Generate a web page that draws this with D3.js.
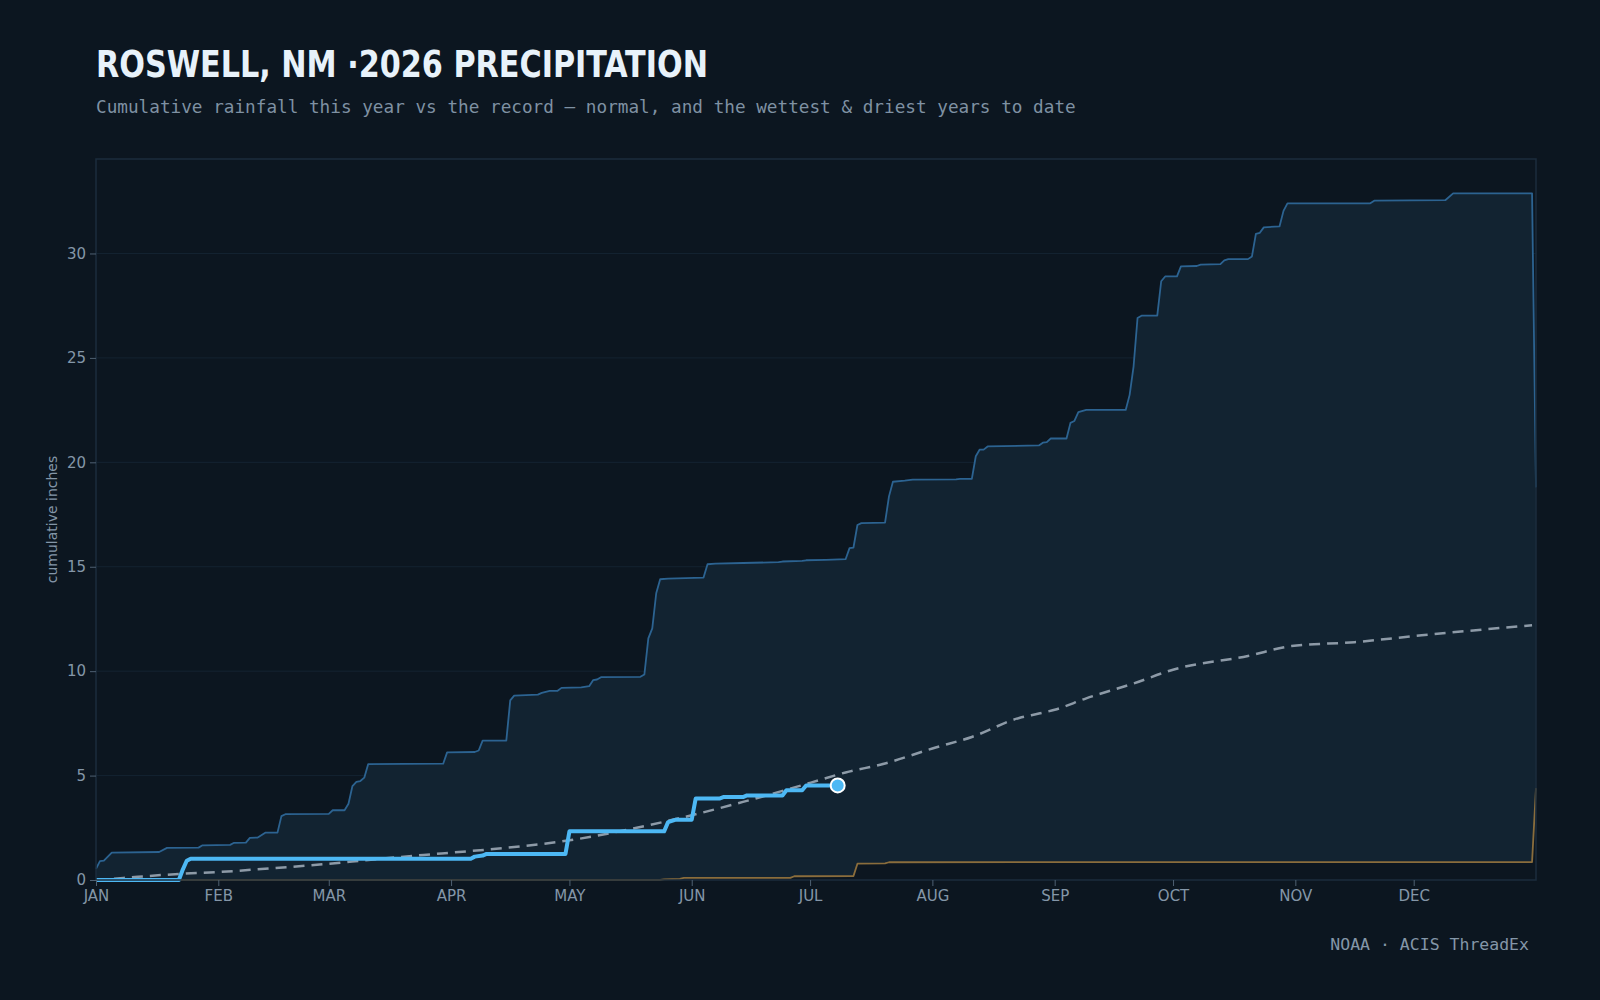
<!DOCTYPE html>
<html>
<head>
<meta charset="utf-8">
<script src="https://cdn.jsdelivr.net/npm/d3@7"></script>
<style>
  html, body { margin: 0; padding: 0; background: #0c1620; }
  svg { display: block; }
</style>
</head>
<body>
<div id="chart"></div>
<script>
// day of year (0 = Jan 1) and cumulative inches
const wettest = [[0,0.53],[1,0.9],[2,0.93],[4,1.31],[16,1.34],[18,1.54],[26,1.55],[27,1.66],[34,1.68],[35,1.78],[38,1.79],[39,2.02],[41,2.03],[43,2.27],[46,2.27],[47,3.06],[48,3.15],[59,3.17],[60,3.34],[63,3.34],[64,3.65],[65,4.5],[66,4.7],[67,4.74],[68,4.9],[69,5.55],[88,5.57],[89,6.11],[96,6.13],[97,6.2],[98,6.67],[104,6.67],[105,8.6],[106,8.83],[112,8.88],[113,8.96],[115,9.06],[117,9.06],[118,9.2],[123,9.22],[125,9.28],[126,9.57],[127,9.6],[128,9.71],[138,9.73],[139,9.84],[140,11.57],[141,12.05],[142,13.73],[143,14.4],[145,14.43],[154,14.48],[155,15.12],[157,15.15],[164,15.18],[173,15.22],[174,15.25],[179,15.28],[180,15.31],[185,15.33],[190,15.36],[191,15.89],[192,15.92],[193,17.0],[194,17.09],[200,17.11],[201,18.37],[202,19.07],[205,19.12],[207,19.17],[218,19.18],[219,19.21],[222,19.21],[223,20.29],[224,20.61],[225,20.61],[226,20.76],[239,20.81],[240,20.94],[241,20.97],[242,21.14],[246,21.14],[247,21.89],[248,21.98],[249,22.4],[251,22.51],[261,22.51],[262,23.23],[263,24.6],[264,26.91],[265,27.02],[269,27.02],[270,28.67],[271,28.9],[274,28.9],[275,29.38],[279,29.4],[280,29.47],[285,29.49],[286,29.67],[287,29.73],[292,29.73],[293,29.86],[294,30.94],[295,30.99],[296,31.25],[300,31.3],[301,32.04],[302,32.4],[323,32.4],[324,32.53],[342,32.55],[344,32.88],[364,32.88],[365,18.8]]

const driest = [[0,0],[143,0],[144,0.03],[148,0.05],[149,0.1],[176,0.1],[177,0.18],[192,0.19],[193,0.78],[200,0.8],[201,0.85],[364,0.86],[365,4.4]]

const normal = [[0,0],[7,0.1],[21,0.29],[31,0.38],[41,0.51],[59,0.78],[69,0.96],[83,1.2],[90,1.31],[100,1.47],[108,1.62],[120,1.9],[134,2.38],[151,3.1],[164,3.74],[181,4.65],[190,5.15],[200,5.58],[212,6.3],[222,6.85],[234,7.76],[239,7.97],[243,8.15],[251,8.7],[263,9.41],[273,10.07],[292,10.73],[303,11.2],[319,11.39],[336,11.72],[352,12.0],[364,12.2]]

const thisYear = [[0,0],[21,0],[22,0.5],[23,0.92],[24,1.02],[95,1.02],[96,1.12],[98,1.17],[99,1.25],[119,1.25],[120,2.33],[144,2.33],[145,2.77],[147,2.89],[151,2.89],[152,3.9],[158,3.9],[159,3.97],[164,3.97],[165,4.05],[174,4.05],[175,4.3],[179,4.3],[180,4.53],[188,4.53]]

const yTicks = [0, 5, 10, 15, 20, 25, 30]

const titleText = "ROSWELL, NM \u00b72026 PRECIPITATION"
const subtitleText = "Cumulative rainfall this year vs the record \u2014 normal, and the wettest & driest years to date"
const sourceText = "NOAA \u00b7 ACIS ThreadEx"
const yLabel = "cumulative inches"

//*************************1. Dimensions
const dims = {
    width: 1600,
    height: 1000,
    margin: { top: 159, right: 64, bottom: 120, left: 96 }
}
dims.boundedWidth = dims.width - dims.margin.left - dims.margin.right
dims.boundedHeight = dims.height - dims.margin.top - dims.margin.bottom

const colors = {
    bg: "#0c1620",
    band: "#122331",
    grid: "#142331",
    frame: "#1b2d3d",
    wet: "#2c6391",
    dry: "#8a6d3c",
    normal: "#8d9aa7",
    year: "#4db8f4",
    text: "#8496a8"
}

//*************************2. Wrapper and bounds
const svg = d3.select("#chart").append("svg")
    .attr("width", dims.width)
    .attr("height", dims.height)
    .style("background", colors.bg)

const bounds = svg.append("g")
    .attr("transform", `translate(${dims.margin.left},${dims.margin.top})`)

//*************************3. Scales
const start = new Date(2026, 0, 1)
const end = new Date(2027, 0, 1)
const dayToDate = d => d3.timeDay.offset(start, d)
const xAccessor = d => dayToDate(d[0])
const yAccessor = d => d[1]

const xScale = d3.scaleTime()
    .domain([start, end])
    .range([0, dims.boundedWidth])

const yScale = d3.scaleLinear()
    .domain([0, d3.max(wettest, yAccessor) * 1.05])
    .range([dims.boundedHeight, 0])

//*************************4. Grid
bounds.append("g")
    .selectAll("line")
    .data(yTicks.filter(t => t > 0))
    .join("line")
    .attr("x1", 0)
    .attr("x2", dims.boundedWidth)
    .attr("y1", d => yScale(d))
    .attr("y2", d => yScale(d))
    .attr("stroke", colors.grid)
    .attr("stroke-width", 1)

//*************************5. Band, lines
const areaGen = d3.area()
    .x(d => xScale(xAccessor(d)))
    .y0(yScale(0))
    .y1(d => yScale(yAccessor(d)))

const lineGen = d3.line()
    .x(d => xScale(xAccessor(d)))
    .y(d => yScale(yAccessor(d)))

// band between driest and wettest: fill under wettest, then cut out under driest
bounds.append("path")
    .attr("d", areaGen(wettest))
    .attr("fill", colors.band)

bounds.append("path")
    .attr("d", areaGen(driest))
    .attr("fill", colors.bg)

bounds.append("path")
    .attr("d", lineGen(wettest))
    .attr("fill", "none")
    .attr("stroke", colors.wet)
    .attr("stroke-width", 1.8)
    .attr("stroke-linejoin", "round")

bounds.append("path")
    .attr("d", lineGen(driest))
    .attr("fill", "none")
    .attr("stroke", colors.dry)
    .attr("stroke-width", 1.8)
    .attr("stroke-linejoin", "round")

bounds.append("path")
    .attr("d", lineGen.curve(d3.curveMonotoneX)(normal))
    .attr("fill", "none")
    .attr("stroke", colors.normal)
    .attr("stroke-width", 2.5)
    .attr("stroke-dasharray", "11 7")

lineGen.curve(d3.curveLinear)

bounds.append("path")
    .attr("d", lineGen(thisYear))
    .attr("fill", "none")
    .attr("stroke", colors.year)
    .attr("stroke-width", 4)
    .attr("stroke-linejoin", "round")

const last = thisYear[thisYear.length - 1]
bounds.append("circle")
    .attr("cx", xScale(xAccessor(last)))
    .attr("cy", yScale(yAccessor(last)))
    .attr("r", 7)
    .attr("fill", colors.year)
    .attr("stroke", "#ffffff")
    .attr("stroke-width", 2)

// frame
bounds.append("rect")
    .attr("x", 0)
    .attr("y", 0)
    .attr("width", dims.boundedWidth)
    .attr("height", dims.boundedHeight)
    .attr("fill", "none")
    .attr("stroke", colors.frame)
    .attr("stroke-width", 1.5)

//*************************6. Axes
const xAxis = d3.axisBottom(xScale)
    .tickValues(d3.timeMonth.range(start, end))
    .tickFormat(d => d3.timeFormat("%b")(d).toUpperCase())
    .tickSize(6)
    .tickPadding(4)

const xAxisG = bounds.append("g")
    .attr("transform", `translate(0,${dims.boundedHeight})`)
    .call(xAxis)

const yAxis = d3.axisLeft(yScale)
    .tickValues(yTicks)
    .tickFormat(d3.format("d"))
    .tickSize(6)
    .tickPadding(4)

const yAxisG = bounds.append("g").call(yAxis)

for (const g of [xAxisG, yAxisG]) {
    g.select(".domain").remove()
    g.selectAll(".tick line").attr("stroke", "#4f6172")
    g.selectAll(".tick text")
        .attr("fill", colors.text)
        .style("font-family", "'DejaVu Sans', sans-serif")
        .style("font-size", "15px")
}

bounds.append("text")
    .attr("transform", `translate(${57 - dims.margin.left},${dims.boundedHeight / 2}) rotate(-90)`)
    .attr("text-anchor", "middle")
    .attr("fill", colors.text)
    .style("font-family", "'DejaVu Sans', sans-serif")
    .style("font-size", "14px")
    .text(yLabel)

//*************************7. Titles
svg.append("text")
    .attr("x", 96)
    .attr("y", 77)
    .attr("fill", "#e8f2fa")
    .attr("textLength", 612)
    .attr("lengthAdjust", "spacingAndGlyphs")
    .style("font-family", "'DejaVu Sans Condensed', 'DejaVu Sans', sans-serif")
    .style("font-weight", "bold")
    .style("font-size", "37px")
    .text(titleText)

svg.append("text")
    .attr("x", 96)
    .attr("y", 112.5)
    .attr("fill", "#7f91a3")
    .style("font-family", "'DejaVu Sans Mono', monospace")
    .style("font-size", "17.7px")
    .text(subtitleText)

svg.append("text")
    .attr("x", 1529)
    .attr("y", 950)
    .attr("text-anchor", "end")
    .attr("fill", colors.text)
    .style("font-family", "'DejaVu Sans Mono', monospace")
    .style("font-size", "16.5px")
    .text(sourceText)
</script>
</body>
</html>
